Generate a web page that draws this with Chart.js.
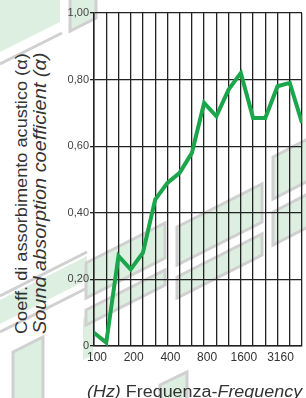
<!DOCTYPE html>
<html>
<head>
<meta charset="utf-8">
<script src="https://cdn.jsdelivr.net/npm/chart.js@4"></script>
<style>
  body { margin: 0; width: 306px; height: 398px; overflow: hidden; background: #fff; position: relative;
         font-family: Arial, "Liberation Sans", sans-serif; color: #333; }
  #mark { position: absolute; left: 0; top: 0; }
  #chartBox { position: absolute; left: 0; top: 0; width: 306px; height: 398px; }
  .ytitle { position: absolute; white-space: nowrap; transform-origin: left top; line-height: 1; }
  #xtitle { position: absolute; left: 87px; top: 384px; font-size: 16px; white-space: nowrap; line-height: 1; transform-origin: left top; }
</style>
</head>
<body>
<!-- filigrana di sfondo -->
<svg id="mark" width="306" height="398" fill="#dcefe0" stroke="#d0d0d0" stroke-width="3">
  <polygon points="0,0 60,0 60,22 0,52" stroke="none"/>
  <line x1="0" y1="64" x2="62" y2="33"/>
  <polygon points="70,-2 96,-2 96,18 70,31"/>
  <polygon points="0,300 87,256 87,280 0,324" stroke="none"/>
  <line x1="0" y1="296" x2="87" y2="252"/>
  <line x1="0" y1="332" x2="87" y2="288"/>
  <polygon points="13,352 43,337 43,402 13,402"/>
  <polygon points="83,318 93,313 93,355 83,360" stroke="none"/>
  <polygon points="86,263 165,223 165,258 86,298"/>
  <polygon points="86,310 165,270 165,285 86,325"/>
  <polygon points="177,227 262,184 262,222 177,265"/>
  <polygon points="177,277 262,234 262,255 177,298"/>
  <polygon points="273,157 310,138 310,180 273,199"/>
  <polygon points="273,212 310,193 310,226 273,245"/>
  <polygon points="160,385 187,372 187,402 160,402"/>
</svg>
<div class="ytitle" id="yt1" style="left:13px; top:334px; font-size:17px;">Coeff. di assorbimento acustico (α)</div>
<div class="ytitle" id="yt2" style="left:31px; top:334px; font-size:18px; font-style:italic;">Sound absorption coefficient (α)</div>
<div id="chartBox"><canvas id="absChart"></canvas></div>
<div id="xtitle"><i>(Hz)</i> Frequenza-<i>Frequency</i></div>
<script>
// bande di terzo d'ottava (Hz)
const frequencies = ["100", "125", "160", "200", "250", "315", "400", "500", "630",
  "800", "1000", "1250", "1600", "2000", "2500", "3160", "4000", "5000"];
// coefficiente di assorbimento
const alpha = [0.04, 0.01, 0.27, 0.23, 0.28, 0.44, 0.49, 0.52, 0.58,
  0.73, 0.69, 0.77, 0.82, 0.685, 0.685, 0.78, 0.79, 0.67];
// etichette mostrate sull'asse x
const shownLabels = ["100", "200", "400", "800", "1600", "3160"];
const yTicks = [0, 0.2, 0.4, 0.6, 0.8, 1.0];

// allunga i titoli alla lunghezza dell'originale
function fit(id, len, rot) {
  const el = document.getElementById(id);
  const k = len / el.offsetWidth;
  el.style.transform = (rot ? "rotate(-90deg) " : "") + "scaleX(" + k + ")";
}
fit("yt1", 281, true);
fit("yt2", 281, true);
fit("xtitle", 215, false);

const points = alpha.map((v, i) => ({ x: i, y: v }));

new Chart(document.getElementById("absChart"), {
  type: "line",
  data: {
    datasets: [{
      data: points,
      borderColor: "#1ba64b",
      borderWidth: 4,
      pointRadius: 0,
      tension: 0,
      fill: false
    }]
  },
  options: {
    responsive: true,
    maintainAspectRatio: false,
    animation: false,
    layout: { padding: { top: 13, right: 0, bottom: 0, left: 0 } },
    plugins: { legend: { display: false }, tooltip: { enabled: false } },
    scales: {
      x: {
        type: "linear",
        min: 0,
        max: frequencies.length - 1,
        afterFit: s => { s.height = 52; },
        afterBuildTicks: s => { s.ticks = frequencies.map((f, i) => ({ value: i })); },
        grid: { color: "#222", lineWidth: 1.3, drawTicks: false },
        border: { color: "#222", width: 1.5 },
        ticks: {
          autoSkip: false,
          maxRotation: 0,
          padding: 4,
          labelOffset: 3,
          color: "#333",
          font: { size: 12, family: "Arial, 'Liberation Sans'" },
          callback: v => shownLabels.includes(frequencies[v]) ? frequencies[v] : ""
        }
      },
      y: {
        min: 0,
        max: 1,
        afterFit: s => { s.width = 94; },
        afterBuildTicks: s => { s.ticks = yTicks.map(v => ({ value: v })); },
        grid: { color: "#222", lineWidth: 1.3, tickLength: 4 },
        border: { color: "#222", width: 1.5 },
        ticks: {
          padding: 1,
          color: "#444",
          font: { size: 11, family: "Arial, 'Liberation Sans'" },
          callback: v => v === 0 ? "0" : v.toFixed(2).replace(".", ",")
        }
      }
    }
  }
});
</script>
</body>
</html>
